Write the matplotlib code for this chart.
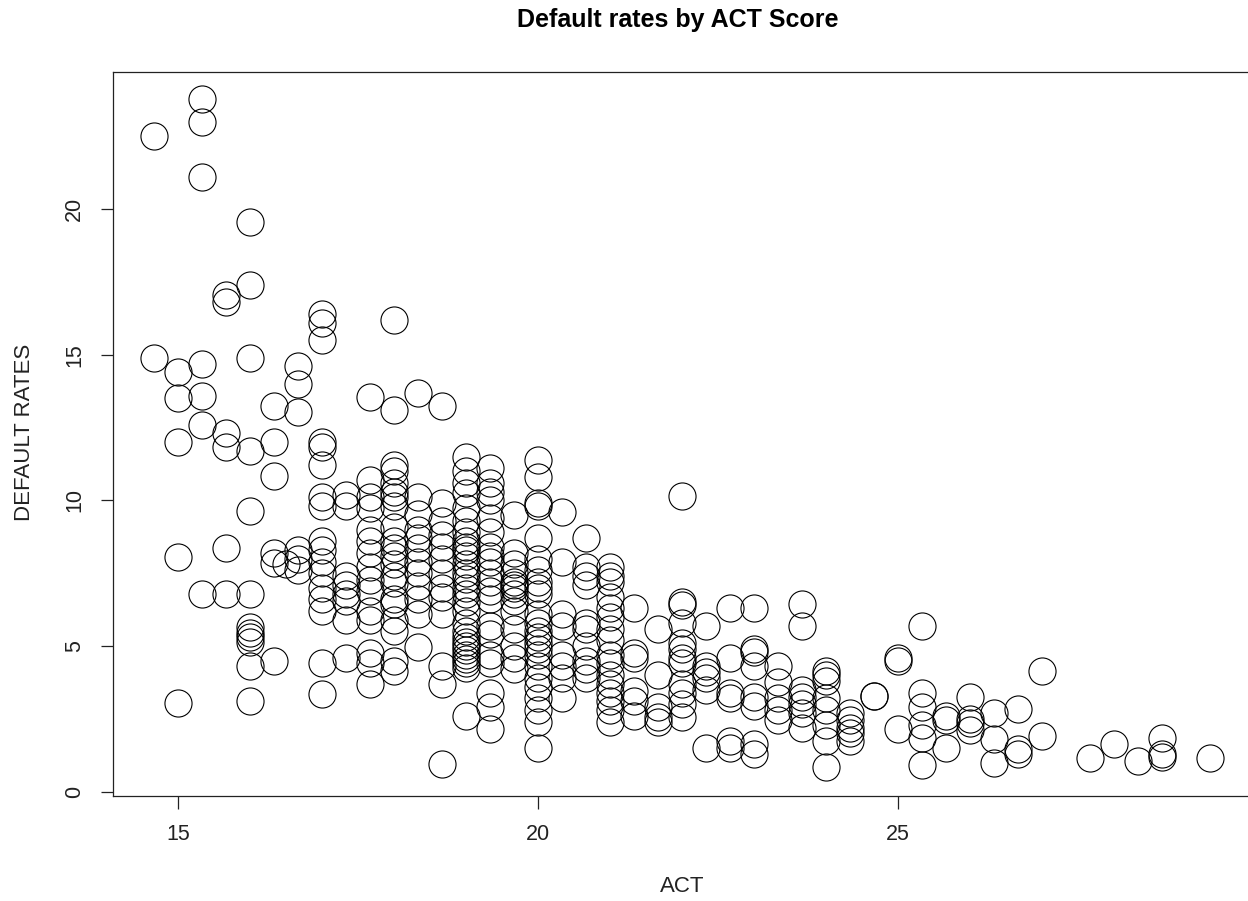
#!/usr/bin/env python3
"""
Scatter of student-loan default rates against average ACT score,
drawn in the look of an R base-graphics plot (open circles, boxed axes).
"""

import matplotlib
matplotlib.use("Agg")
import matplotlib.pyplot as plt

# ACT score levels (scores come in thirds) and the default rates seen at each level
act_levels = [
    14.67, 15.0, 15.33, 15.67, 16.0, 16.33, 16.5, 16.67, 17.0, 17.33, 17.67,
    18.0, 18.33, 18.67, 19.0, 19.33, 19.67, 20.0, 20.33, 20.67, 21.0, 21.33,
    21.67, 22.0, 22.33, 22.67, 23.0, 23.33, 23.67, 24.0, 24.33, 24.67, 25.0,
    25.33, 25.67, 26.0, 26.33, 26.67, 27.0, 27.67, 28.0, 28.33, 28.67, 29.33,
]

rates_by_level = [
    [22.5, 14.9],                                             # 14.67
    [14.4, 13.5, 12.0, 8.05, 3.05],                           # 15
    [23.8, 23.0, 21.1, 14.7, 13.6, 12.6, 6.8],                # 15.33
    [17.05, 16.8, 12.3, 11.85, 8.35, 6.8],                    # 15.67
    [19.55, 17.4, 14.9, 11.7, 9.65, 6.8, 5.65, 5.45, 5.3, 5.15, 4.3, 3.1],  # 16
    [13.25, 12.0, 10.85, 8.2, 7.85, 4.5],                     # 16.33
    [7.8],                                                    # 16.5
    [14.6, 14.0, 13.05, 8.3, 8.0, 7.6],                       # 16.67
    [16.4, 16.1, 15.5, 12.0, 11.85, 11.2, 10.1, 9.8, 8.6, 8.3, 7.9, 7.5,
     7.0, 6.6, 6.2, 4.4, 3.35],                               # 17
    [10.2, 9.8, 7.4, 7.1, 6.8, 6.55, 5.9, 4.6],               # 17.33
    [13.55, 10.7, 10.1, 9.75, 9.0, 8.6, 8.2, 7.7, 7.25, 6.9, 6.2, 5.9,
     4.75, 4.4, 3.7],                                         # 17.67
    [16.2, 13.1, 11.2, 11.0, 10.6, 10.3, 10.1, 9.8, 9.1, 8.6, 8.35, 8.1,
     7.8, 7.4, 7.15, 6.6, 6.45, 5.9, 5.5, 4.5, 4.15],         # 18
    [13.7, 10.1, 9.55, 9.0, 8.7, 8.35, 7.9, 7.5, 7.05, 6.6, 6.1, 4.95],  # 18.33
    [13.25, 9.9, 9.3, 8.8, 8.4, 8.0, 7.5, 7.0, 6.7, 6.1, 4.3, 3.7, 0.95],  # 18.67
    [11.5, 11.0, 10.6, 10.25, 9.75, 9.3, 8.9, 8.6, 8.4, 8.3, 8.1, 7.8,
     7.5, 7.3, 7.0, 6.8, 6.5, 6.2, 5.8, 5.5, 5.3, 5.15, 5.0, 4.85, 4.7,
     4.55, 4.4, 4.25, 2.6],                                   # 19
    [11.1, 10.6, 10.3, 10.0, 9.4, 8.9, 8.4, 8.1, 7.9, 7.5, 7.2, 6.9, 6.6,
     5.7, 5.4, 4.7, 4.4, 3.4, 2.9, 2.15],                     # 19.33
    [9.5, 8.2, 7.8, 7.5, 7.2, 7.1, 7.0, 6.8, 6.55, 6.2, 5.6, 5.0, 4.6, 4.2],  # 19.67
    [11.4, 10.8, 9.9, 9.8, 8.7, 8.0, 7.6, 7.2, 7.0, 6.8, 6.1, 5.8, 5.5,
     5.3, 5.1, 4.9, 4.7, 4.3, 3.9, 3.6, 3.2, 2.8, 2.4, 1.5],  # 20
    [9.6, 7.9, 6.1, 5.7, 4.7, 4.3, 3.9, 3.2],                 # 20.33
    [8.7, 7.7, 7.4, 7.1, 5.8, 5.6, 5.0, 4.5, 4.2, 3.9],       # 20.67
    [7.7, 7.4, 7.2, 6.7, 6.3, 6.0, 5.6, 5.2, 4.7, 4.4, 4.0, 3.7, 3.4,
     3.1, 2.8, 2.4],                                          # 21
    [6.3, 4.75, 4.6, 3.45, 3.1, 2.6],                         # 21.33
    [5.6, 4.0, 2.9, 2.55, 2.4],                               # 21.67
    [10.15, 6.5, 6.4, 5.8, 5.1, 4.9, 4.6, 4.4, 3.7, 3.4, 3.0, 2.55],  # 22
    [5.7, 4.3, 4.1, 3.9, 3.5, 1.5],                           # 22.33
    [6.3, 4.6, 3.4, 3.2, 1.75, 1.5],                          # 22.67
    [6.3, 4.9, 4.8, 4.3, 3.25, 2.95, 1.65, 1.3],              # 23
    [4.3, 3.75, 3.2, 2.8, 2.45],                              # 23.33
    [6.45, 5.7, 3.5, 3.25, 3.0, 2.7, 2.2],                    # 23.67
    [4.15, 4.0, 3.8, 3.2, 2.8, 2.3, 1.75, 0.85],              # 24
    [2.7, 2.45, 2.2, 2.0, 1.75],                              # 24.33
    [3.3, 3.28],                                              # 24.67
    [4.6, 4.5, 2.15],                                         # 25
    [5.7, 3.4, 2.9, 2.3, 1.85, 0.9],                          # 25.33
    [2.6, 2.45, 1.5],                                         # 25.67
    [3.25, 2.5, 2.35, 2.1],                                   # 26
    [2.7, 1.8, 1.0],                                          # 26.33
    [2.85, 1.45, 1.3],                                        # 26.67
    [4.15, 1.9],                                              # 27
    [1.17],                                                   # 27.67
    [1.65],                                                   # 28
    [1.05],                                                   # 28.33
    [1.85, 1.3, 1.2],                                         # 28.67
    [1.17],                                                   # 29.33
]

x_ticks = [15, 20, 25]
y_ticks = [0, 5, 10, 15, 20]

title = "Default rates by ACT Score"
x_label = "ACT"
y_label = "DEFAULT RATES"


def main():
    plt.rcParams["font.family"] = ["Liberation Sans", "DejaVu Sans"]

    act = []
    rates = []
    for level, vals in zip(act_levels, rates_by_level):
        act.extend([level] * len(vals))
        rates.extend(vals)

    fig = plt.figure(figsize=(12.48, 9.01), dpi=100)
    # plot box runs a few pixels past the right edge, as in the original
    ax = fig.add_axes([113 / 1248, 105 / 901, 1139 / 1248, 724 / 901])

    ax.plot(act, rates, linestyle="none", marker="o", markersize=19.5,
            markerfacecolor="none", markeredgecolor="black",
            markeredgewidth=0.8)

    ax.set_xlim(14.097, 29.92)
    ax.set_ylim(-0.15, 24.71)

    ax.set_xticks(x_ticks)
    ax.set_yticks(y_ticks)
    ax.tick_params(axis="both", direction="out", length=9, width=0.9,
                   labelsize=15.5, colors="#222222")
    ax.tick_params(axis="x", pad=11)
    ax.tick_params(axis="y", pad=11)
    for lbl in ax.get_yticklabels():
        lbl.set_rotation(90)
        lbl.set_va("center")

    for spine in ax.spines.values():
        spine.set_linewidth(0.9)
        spine.set_color("#222222")

    fig.text(678 / 1248, 1 - 20 / 901, title, ha="center", va="center",
             fontsize=18, fontweight="bold")
    fig.text(682 / 1248, 1 - 886 / 901, x_label, ha="center", va="center",
             fontsize=16, color="#222222")
    fig.text(25 / 1248, 1 - 432 / 901, y_label, ha="center", va="center",
             rotation=90, fontsize=16, color="#222222")

    fig.savefig("out.png", dpi=100)
    plt.close(fig)


if __name__ == "__main__":
    main()
